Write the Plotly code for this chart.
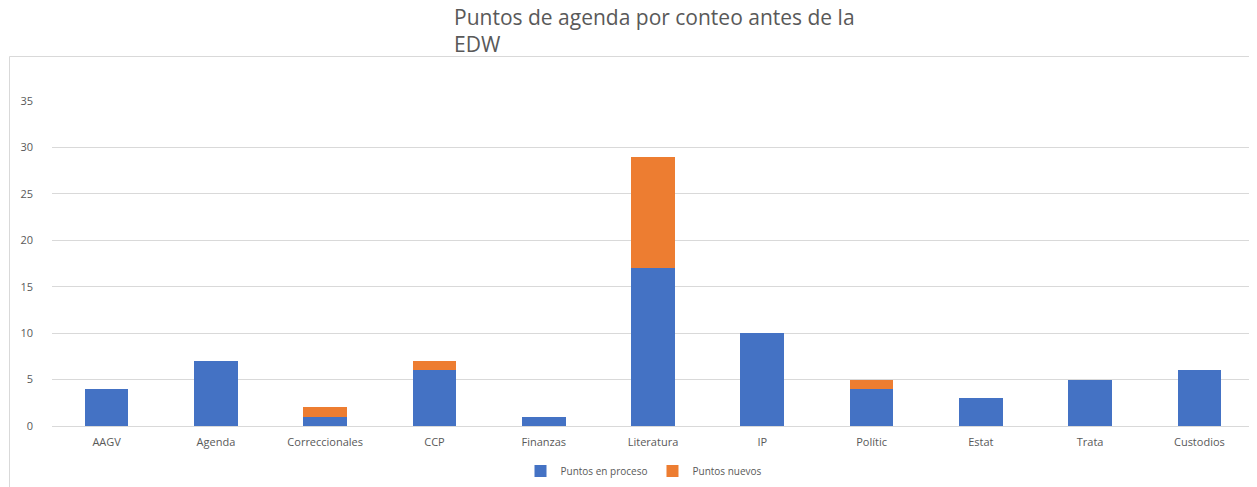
import plotly.graph_objects as go

categories = ["AAGV", "Agenda", "Correccionales", "CCP", "Finanzas", "Literatura",
              "IP", "Polític", "Estat", "Trata", "Custodios"]
en_proceso = [4, 7, 1, 6, 1, 17, 10, 4, 3, 5, 6]
nuevos = [0, 0, 1, 1, 0, 12, 0, 1, 0, 0, 0]
y_ticks = [0, 5, 10, 15, 20, 25, 30, 35]

# page body has an 8px margin: work in page pixels, convert to figure pixels
OFF = 8
W, H = 1257 - OFF, 487 - OFF
L, R = 52 - OFF, 3
T, B = 101 - OFF, 487 - 426
pw, ph = W - L - R, H - T - B

def px_x(x):
    return (x - OFF - L) / pw

def px_y(y):
    return (H - B - (y - OFF)) / ph

grey = "#595959"
font_family = "Open Sans, Liberation Sans, sans-serif"

fig = go.Figure()
fig.add_trace(go.Bar(x=categories, y=en_proceso, name="Puntos en proceso",
                     marker=dict(color="#4472C4", line=dict(width=0))))
fig.add_trace(go.Bar(x=categories, y=nuevos, name="Puntos nuevos",
                     marker=dict(color="#ED7D31", line=dict(width=0))))

fig.update_layout(
    width=W, height=H,
    barmode="stack", bargap=0.6,
    paper_bgcolor="white", plot_bgcolor="white",
    margin=dict(l=L, r=R, t=T, b=B, autoexpand=False),
    font=dict(family=font_family, color=grey, size=11),
    title=dict(text="Puntos de agenda por conteo antes de la<br>EDW",
               x=(454 - OFF) / W, xanchor="left", xref="container",
               y=1 - 17 / H, yanchor="top", yref="container",
               font=dict(size=21, color=grey, family=font_family)),
    showlegend=True,
    legend=dict(orientation="h", x=(644 - OFF) / W, xanchor="center", xref="container",
                y=1 - (471 - OFF) / H, yanchor="middle", yref="container",
                traceorder="normal",
                font=dict(size=10, color=grey),
                bgcolor="rgba(0,0,0,0)"),
    xaxis=dict(showgrid=False, showline=True, linecolor="#d9d9d9", linewidth=1,
               ticks="", tickfont=dict(size=11, color=grey), ticklabelstandoff=6),
    yaxis=dict(range=[0, 35], tickvals=y_ticks, showgrid=True, gridcolor="#d9d9d9",
               gridwidth=1, zeroline=False, showline=False, ticks="",
               tickfont=dict(size=11, color=grey), ticklabelstandoff=18),
    shapes=[dict(type="rect", xref="paper", yref="paper",
                 x0=px_x(9.5), x1=px_x(1270), y0=px_y(56.5), y1=px_y(500),
                 line=dict(color="#d9d9d9", width=1), fillcolor="rgba(0,0,0,0)",
                 layer="below")],
)

fig.write_html("out.html")
